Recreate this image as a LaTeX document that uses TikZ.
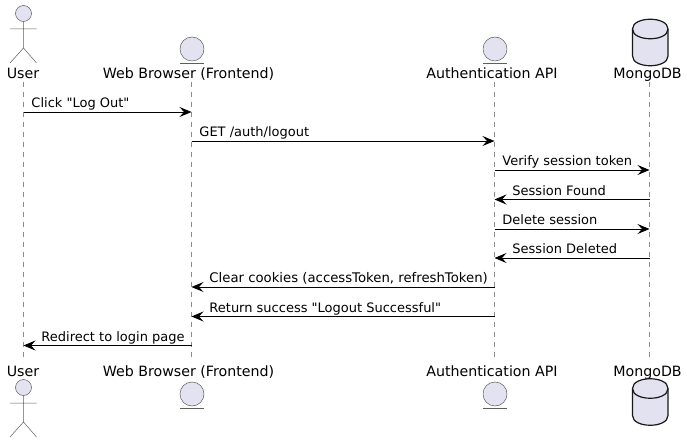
\documentclass[tikz,border=0pt]{standalone}
\usepackage{fontspec}
\setmainfont[Ligatures=TeXOff]{DejaVu Sans}
\usetikzlibrary{arrows.meta}
\definecolor{partfill}{HTML}{E2E2F0}
\definecolor{partline}{HTML}{181818}

\begin{document}
\begin{tikzpicture}[x=1pt,y=-1pt,>={Stealth[length=12pt,width=10pt,inset=4.5pt]},
                    part label/.style={font=\fontsize{14.2}{16}\selectfont,inner sep=0pt,anchor=base},
                    lifeline/.style={draw=partline!50,line width=.6pt,dash pattern=on 5pt off 5pt},
                    message/.style={->,black,line width=.9pt},
                    right label/.style={font=\fontsize{13}{15}\selectfont,inner sep=0pt,anchor=base west,pos=0,xshift=7.5pt,yshift=4.2pt},
                    left label/.style={font=\fontsize{13}{15}\selectfont,inner sep=0pt,anchor=base west,pos=1,xshift=17.5pt,yshift=4.2pt},
                    stick/.style={draw=partline!70,line width=.5pt},
                    ball/.style={stick,fill=partfill,circle,inner sep=0pt},
                    drum/.style={draw=partline,line width=1.2pt,fill=partfill}]
  \useasboundingbox (0,0) rectangle (687,443);

  % lifelines and participant names, top and bottom
  \foreach \id/\xpos/\xtext/\name in {user/23.5/23/User,web/191.5/188.5/Web Browser (Frontend),
                               api/494.5/492/Authentication API,mongo/649.5/647.5/MongoDB} {
    \node[part label] (\id top) at (\xtext,79) {\name};
    \node[part label] (\id bot) at (\xtext,376) {\name};
    \coordinate (\id start) at (\xpos,82);
    \coordinate (\id end) at (\xpos,362);
    \draw[lifeline] (\id start) -- (\id end);
    % one end point per message row
    \foreach \row/\ypos in {1/112,2/141,3/170,4/199.5,5/229,6/258,7/287,8/316.5,9/345.5}
      \coordinate (\id\row) at (\xpos,\ypos);
  }

  % actors
  \foreach \place/\dy in {top/0,bot/374} {
    \begin{scope}[yshift=-\dy pt]
      \node[ball,minimum size=16pt] (head\place) at (23.5,13.5) {};
      \coordinate (hip\place) at (23.5,48);
      \coordinate (armL\place) at (10,29);
      \coordinate (armR\place) at (36.5,29);
      \coordinate (legL\place) at (10,63);
      \coordinate (legR\place) at (36.5,63);
      \draw[stick] (head\place) -- (hip\place) (armL\place) -- (armR\place)
        (legL\place) -- (hip\place) -- (legR\place);
    \end{scope}
  }

  % entities
  \foreach \id/\xpos in {web/192,api/495}
    \foreach \place/\dy in {top/0,bot/345} {
      \node[ball,minimum size=24pt] (\id ball\place) at (\xpos,49+\dy) {};
      \coordinate (\id lineL\place) at (\xpos-12,63+\dy);
      \coordinate (\id lineR\place) at (\xpos+12,63+\dy);
      \draw[stick] (\id lineL\place) -- (\id lineR\place);
    }

  % database drums
  \foreach \place/\ytop in {top/19,bot/378.5} {
    \begin{scope}[yshift=-\ytop pt]
      \draw[drum] (632.5,10) .. controls (632.5,-3) and (668,-3) .. (668,10)
        -- (668,37) .. controls (668,50) and (632.5,50) .. (632.5,37) -- cycle;
      \draw[drum,fill=none] (632.5,10) .. controls (632.5,23) and (668,23) .. (668,10);
    \end{scope}
  }

  \path[message]
    (user1) edge node[right label] {Click "Log Out"} (web1)
    (web2) edge node[right label] {GET /auth/logout} (api2)
    (api3) edge node[right label] {Verify session token} (mongo3)
    (mongo4) edge node[left label] {Session Found} (api4)
    (api5) edge node[right label] {Delete session} (mongo5)
    (mongo6) edge node[left label] {Session Deleted} (api6)
    (api7) edge node[left label,font=\fontsize{13.25}{15}\selectfont] {Clear cookies (accessToken, refreshToken)} (web7)
    (api8) edge node[left label] {Return success "Logout Successful"} (web8)
    (web9) edge node[left label] {Redirect to login page} (user9);
\end{tikzpicture}
\end{document}
